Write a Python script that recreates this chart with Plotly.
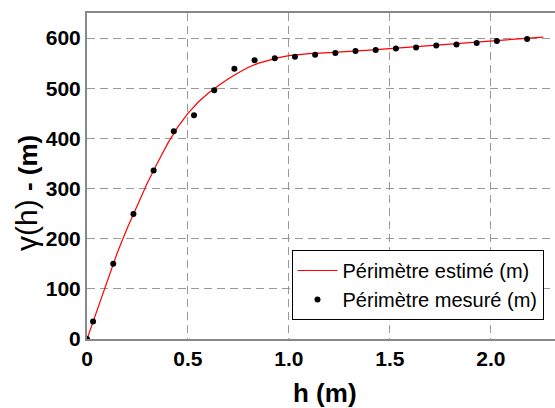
import plotly.graph_objects as go

# measured points
meas_h = [0.0, 0.03, 0.13, 0.23, 0.33, 0.43, 0.53, 0.63, 0.73, 0.83, 0.93, 1.03,
          1.13, 1.23, 1.33, 1.43, 1.53, 1.63, 1.73, 1.83, 1.93, 2.03, 2.18]
meas_v = [0, 35, 150, 249, 336, 414, 446, 496, 539, 556, 560, 563,
          567, 570, 574, 576, 579, 581, 585, 587, 590, 594, 598]

# estimated curve
est_h = [0.0, 0.05, 0.1, 0.15, 0.2, 0.25, 0.3, 0.35, 0.4, 0.45, 0.5, 0.55, 0.6,
         0.65, 0.7, 0.75, 0.8, 0.85, 0.9, 0.95, 1.0, 1.05, 1.1, 1.2, 1.3, 1.4,
         1.5, 1.6, 1.7, 1.8, 1.9, 2.0, 2.1, 2.2, 2.26]
est_v = [0, 58, 116, 172, 222, 268, 312, 352, 390, 423, 450, 472, 490,
         505, 519, 531, 542, 550, 556, 561, 565, 567, 569, 571, 573, 576,
         579, 582, 585, 588, 591, 594, 597, 600, 602]

x_ticks = [0, 0.5, 1.0, 1.5, 2.0]
x_labels = ["0", "0.5", "1.0", "1.5", "2.0"]
y_ticks = [0, 100, 200, 300, 400, 500, 600]

FONT = "Liberation Sans, Arial, sans-serif"

fig = go.Figure()
fig.add_trace(go.Scatter(x=est_h, y=est_v, mode="lines",
                         line=dict(color="#ff0000", width=1.2),
                         name="Périmètre estimé (m)"))
fig.add_trace(go.Scatter(x=meas_h, y=meas_v, mode="markers",
                         marker=dict(color="black", size=6),
                         name="Périmètre mesuré (m)"))

grid = dict(showgrid=True, gridcolor="#999999", griddash="8px,5px", gridwidth=1,
            zeroline=False, showline=True, linecolor="#888888", linewidth=2,
            automargin=False)

fig.update_layout(
    width=555, height=408,
    margin=dict(l=87, r=0, t=13, b=69),
    paper_bgcolor="white", plot_bgcolor="white",
    font=dict(family=FONT, color="black"),
    showlegend=True,
    legend=dict(x=0.437, y=0.273, xanchor="left", yanchor="top",
                bordercolor="black", borderwidth=1, bgcolor="white",
                font=dict(size=20, family=FONT), itemwidth=40,
                tracegroupgap=0),
    xaxis=dict(range=[0, 2.318], tickvals=x_ticks, ticktext=x_labels,
               tickfont=dict(size=21, weight="bold"), mirror=True, ticks="",
               **grid),
    yaxis=dict(range=[0, 650], tickvals=y_ticks,
               tickfont=dict(size=21, weight="bold"), ticks="",
               mirror=False, **grid),
)

fig.add_annotation(text="γ(h) <b><span style='font-size:26px'>- (m)</span></b>",
                   xref="paper", yref="paper", x=-0.128, y=0.448,
                   textangle=-90, showarrow=False,
                   font=dict(size=30, family=FONT),
                   xanchor="center", yanchor="middle")

fig.add_annotation(text="<b>h (m)</b>",
                   xref="paper", yref="paper", x=0.508, y=-0.166,
                   showarrow=False, font=dict(size=26, family=FONT),
                   xanchor="center", yanchor="middle")

fig.write_html("out.html",
               config={"displayModeBar": False},
               post_script="document.body.style.margin='0';"
                           "document.body.style.overflow='hidden';")
